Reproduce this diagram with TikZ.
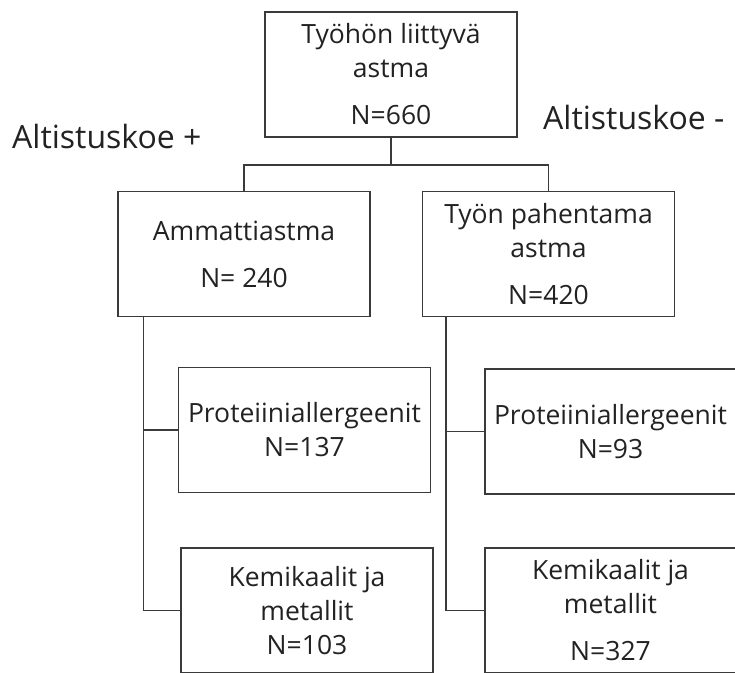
\documentclass[tikz,border=0pt]{standalone}
\usepackage{fontspec}
\setmainfont{Open Sans}
\definecolor{linec}{HTML}{3A3A3A}
\definecolor{textc}{HTML}{222222}
\tikzset{
  box/.style={draw=linec, line width=1.5pt, minimum width=252pt, minimum height=125pt,
    inner sep=0pt, align=center, text=textc, font=\fontsize{26.5}{34}\selectfont},
  conn/.style={draw=linec, line width=1.5pt},
  lab/.style={text=textc, font=\fontsize{32}{36}\selectfont, inner sep=0pt, anchor=base west}
}
\begin{document}
\begin{tikzpicture}[x=1pt, y=-1pt]
\clip (0,0) rectangle (735,672);
\fill[white] (0,0) rectangle (735,672);
\node[box] (top) at (391,74.5) {Työhön liittyvä\\astma\\[13pt]N=660};
\node[box] (amm) at (244,254) {Ammattiastma\\[13pt]N= 240};
\node[box] (tyon) at (548.5,254) {Työn pahentama\\astma\\[13pt]N=420};
\node[box] (pl) at (304.5,430) {Proteiiniallergeenit\\N=137};
\node[box, minimum width=251pt] (pr) at (610.5,431.5) {Proteiiniallergeenit\\N=93};
\node[box] (kl) at (307,610.5) {Kemikaalit ja\\metallit\\N=103};
\node[box, minimum width=251pt] (kr) at (610.5,610.5) {Kemikaalit ja\\metallit\\[13pt]N=327};
\node[lab] (lplus) at (12,148) {Altistuskoe +};
\node[lab] (lminus) at (543,129) {Altistuskoe -};
\coordinate (split) at ([yshift=-27pt]top.south);
\coordinate (tl) at ([xshift=26pt]amm.south west);
\coordinate (tr) at ([xshift=24pt]tyon.south west);
\draw[conn] (top.south) -- (split);
\draw[conn] (amm.north) |- (split) -| (tyon.north);
\draw[conn] (tl) |- (pl.west);
\draw[conn] (tl) |- (kl.west);
\draw[conn] (tr) |- (pr.west);
\draw[conn] (tr) |- (kr.west);
\end{tikzpicture}
\end{document}
